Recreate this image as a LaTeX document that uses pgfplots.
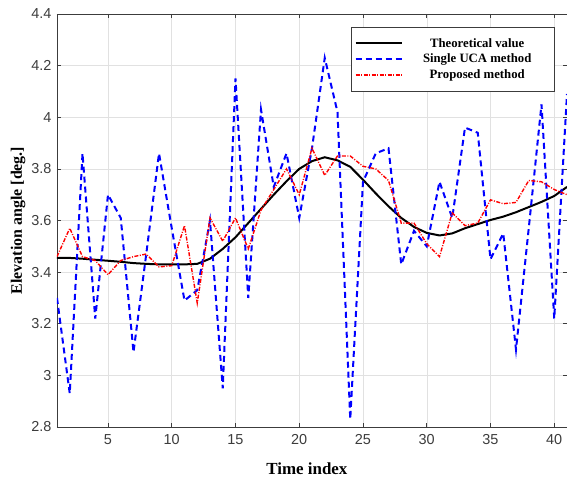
\documentclass[border=0pt]{standalone}
\usepackage{fontspec}
\setmainfont{Liberation Serif}
\setsansfont{Liberation Sans}
\usepackage{pgfplots}
\pgfplotsset{compat=1.18}
\definecolor{axgray}{RGB}{60,60,60}
\definecolor{gridgray}{RGB}{225,225,225}

\begin{document}
\begin{tikzpicture}
\useasboundingbox (-57bp,-56bp) rectangle (510bp,427bp);
\begin{axis}[
  scale only axis,
  width=510bp, height=413bp,
  xmin=1, xmax=41, ymin=2.8, ymax=4.4,
  xtick={5,10,...,40},
  ytick={2.8,3,3.2,3.4,3.6,3.8,4,4.2,4.4},
  grid=major,
  grid style={draw=gridgray, line width=0.5bp},
  axis line style={draw=axgray, line width=0.6bp},
  tick style={draw=axgray, line width=0.6bp},
  tick align=inside,
  major tick length=4bp,
  /pgf/number format/assume math mode=true,
  tick label style={font=\sffamily\fontsize{14.5}{16}\selectfont, text=axgray},
  xticklabel style={yshift=-4bp},
  yticklabel style={xshift=-2bp},
  xlabel={Time index},
  ylabel={Elevation angle [deg.]},
  xlabel style={font=\bfseries\fontsize{17}{19}\selectfont, at={(axis description cs:0.49,-0.1017)}, anchor=center},
  ylabel style={font=\bfseries\fontsize{16}{18}\selectfont, at={(axis description cs:-0.0765,0.5)}, anchor=center},
  legend cell align=center,
  legend image code/.code={\draw[#1] (0bp,0bp) -- (46bp,0bp);},
  legend style={at={(axis description cs:0.9765,0.9685)}, anchor=north east,
    draw=axgray, line width=0.6bp, fill=white, inner xsep=3bp, inner ysep=9bp,
    row sep=1.5bp,
    font=\bfseries\fontsize{12.8}{14}\selectfont},
]
\addplot[black, line width=2bp] coordinates {
(1,3.455) (2,3.455) (3,3.452) (4,3.448) (5,3.444) (6,3.440) (7,3.435) (8,3.432)
(9,3.430) (10,3.430) (11,3.430) (12,3.432) (13,3.452) (14,3.490) (15,3.535)
(16,3.590) (17,3.645) (18,3.700) (19,3.752) (20,3.800) (21,3.830) (22,3.845)
(23,3.833) (24,3.808) (25,3.758) (26,3.705) (27,3.655) (28,3.610) (29,3.575)
(30,3.552) (31,3.542) (32,3.550) (33,3.570) (34,3.586) (35,3.602) (36,3.615)
(37,3.632) (38,3.652) (39,3.672) (40,3.695) (41,3.730)
};
\addlegendentry{\makebox[145bp]{Theoretical value}}
\addplot[blue, line width=2bp, dash pattern=on 6bp off 4bp] coordinates {
(1,3.30) (2,2.93) (3,3.86) (4,3.22) (5,3.70) (6,3.61) (7,3.09) (8,3.47)
(9,3.86) (10,3.57) (11,3.29) (12,3.33) (13,3.60) (14,2.95) (15,4.15)
(16,3.30) (17,4.03) (18,3.73) (19,3.86) (20,3.61) (21,3.88) (22,4.23)
(23,4.02) (24,2.83) (25,3.75) (26,3.86) (27,3.88) (28,3.43) (29,3.56)
(30,3.50) (31,3.75) (32,3.61) (33,3.96) (34,3.94) (35,3.45) (36,3.55)
(37,3.10) (38,3.57) (39,4.05) (40,3.22) (41,4.09)
};
\addlegendentry{\makebox[145bp]{Single UCA method}}
\addplot[red, line width=1.4bp, dash pattern=on 4bp off 1.5bp on 1bp off 1.5bp] coordinates {
(1,3.46) (2,3.57) (3,3.46) (4,3.445) (5,3.39) (6,3.445) (7,3.46) (8,3.47)
(9,3.42) (10,3.425) (11,3.58) (12,3.28) (13,3.61) (14,3.52) (15,3.61)
(16,3.49) (17,3.64) (18,3.72) (19,3.80) (20,3.70) (21,3.88) (22,3.775)
(23,3.85) (24,3.85) (25,3.81) (26,3.80) (27,3.755) (28,3.59) (29,3.59)
(30,3.51) (31,3.46) (32,3.63) (33,3.58) (34,3.59) (35,3.68) (36,3.665)
(37,3.67) (38,3.755) (39,3.75) (40,3.72) (41,3.70)
};
\addlegendentry{\makebox[145bp]{Proposed method}}
\end{axis}
\end{tikzpicture}
\end{document}
